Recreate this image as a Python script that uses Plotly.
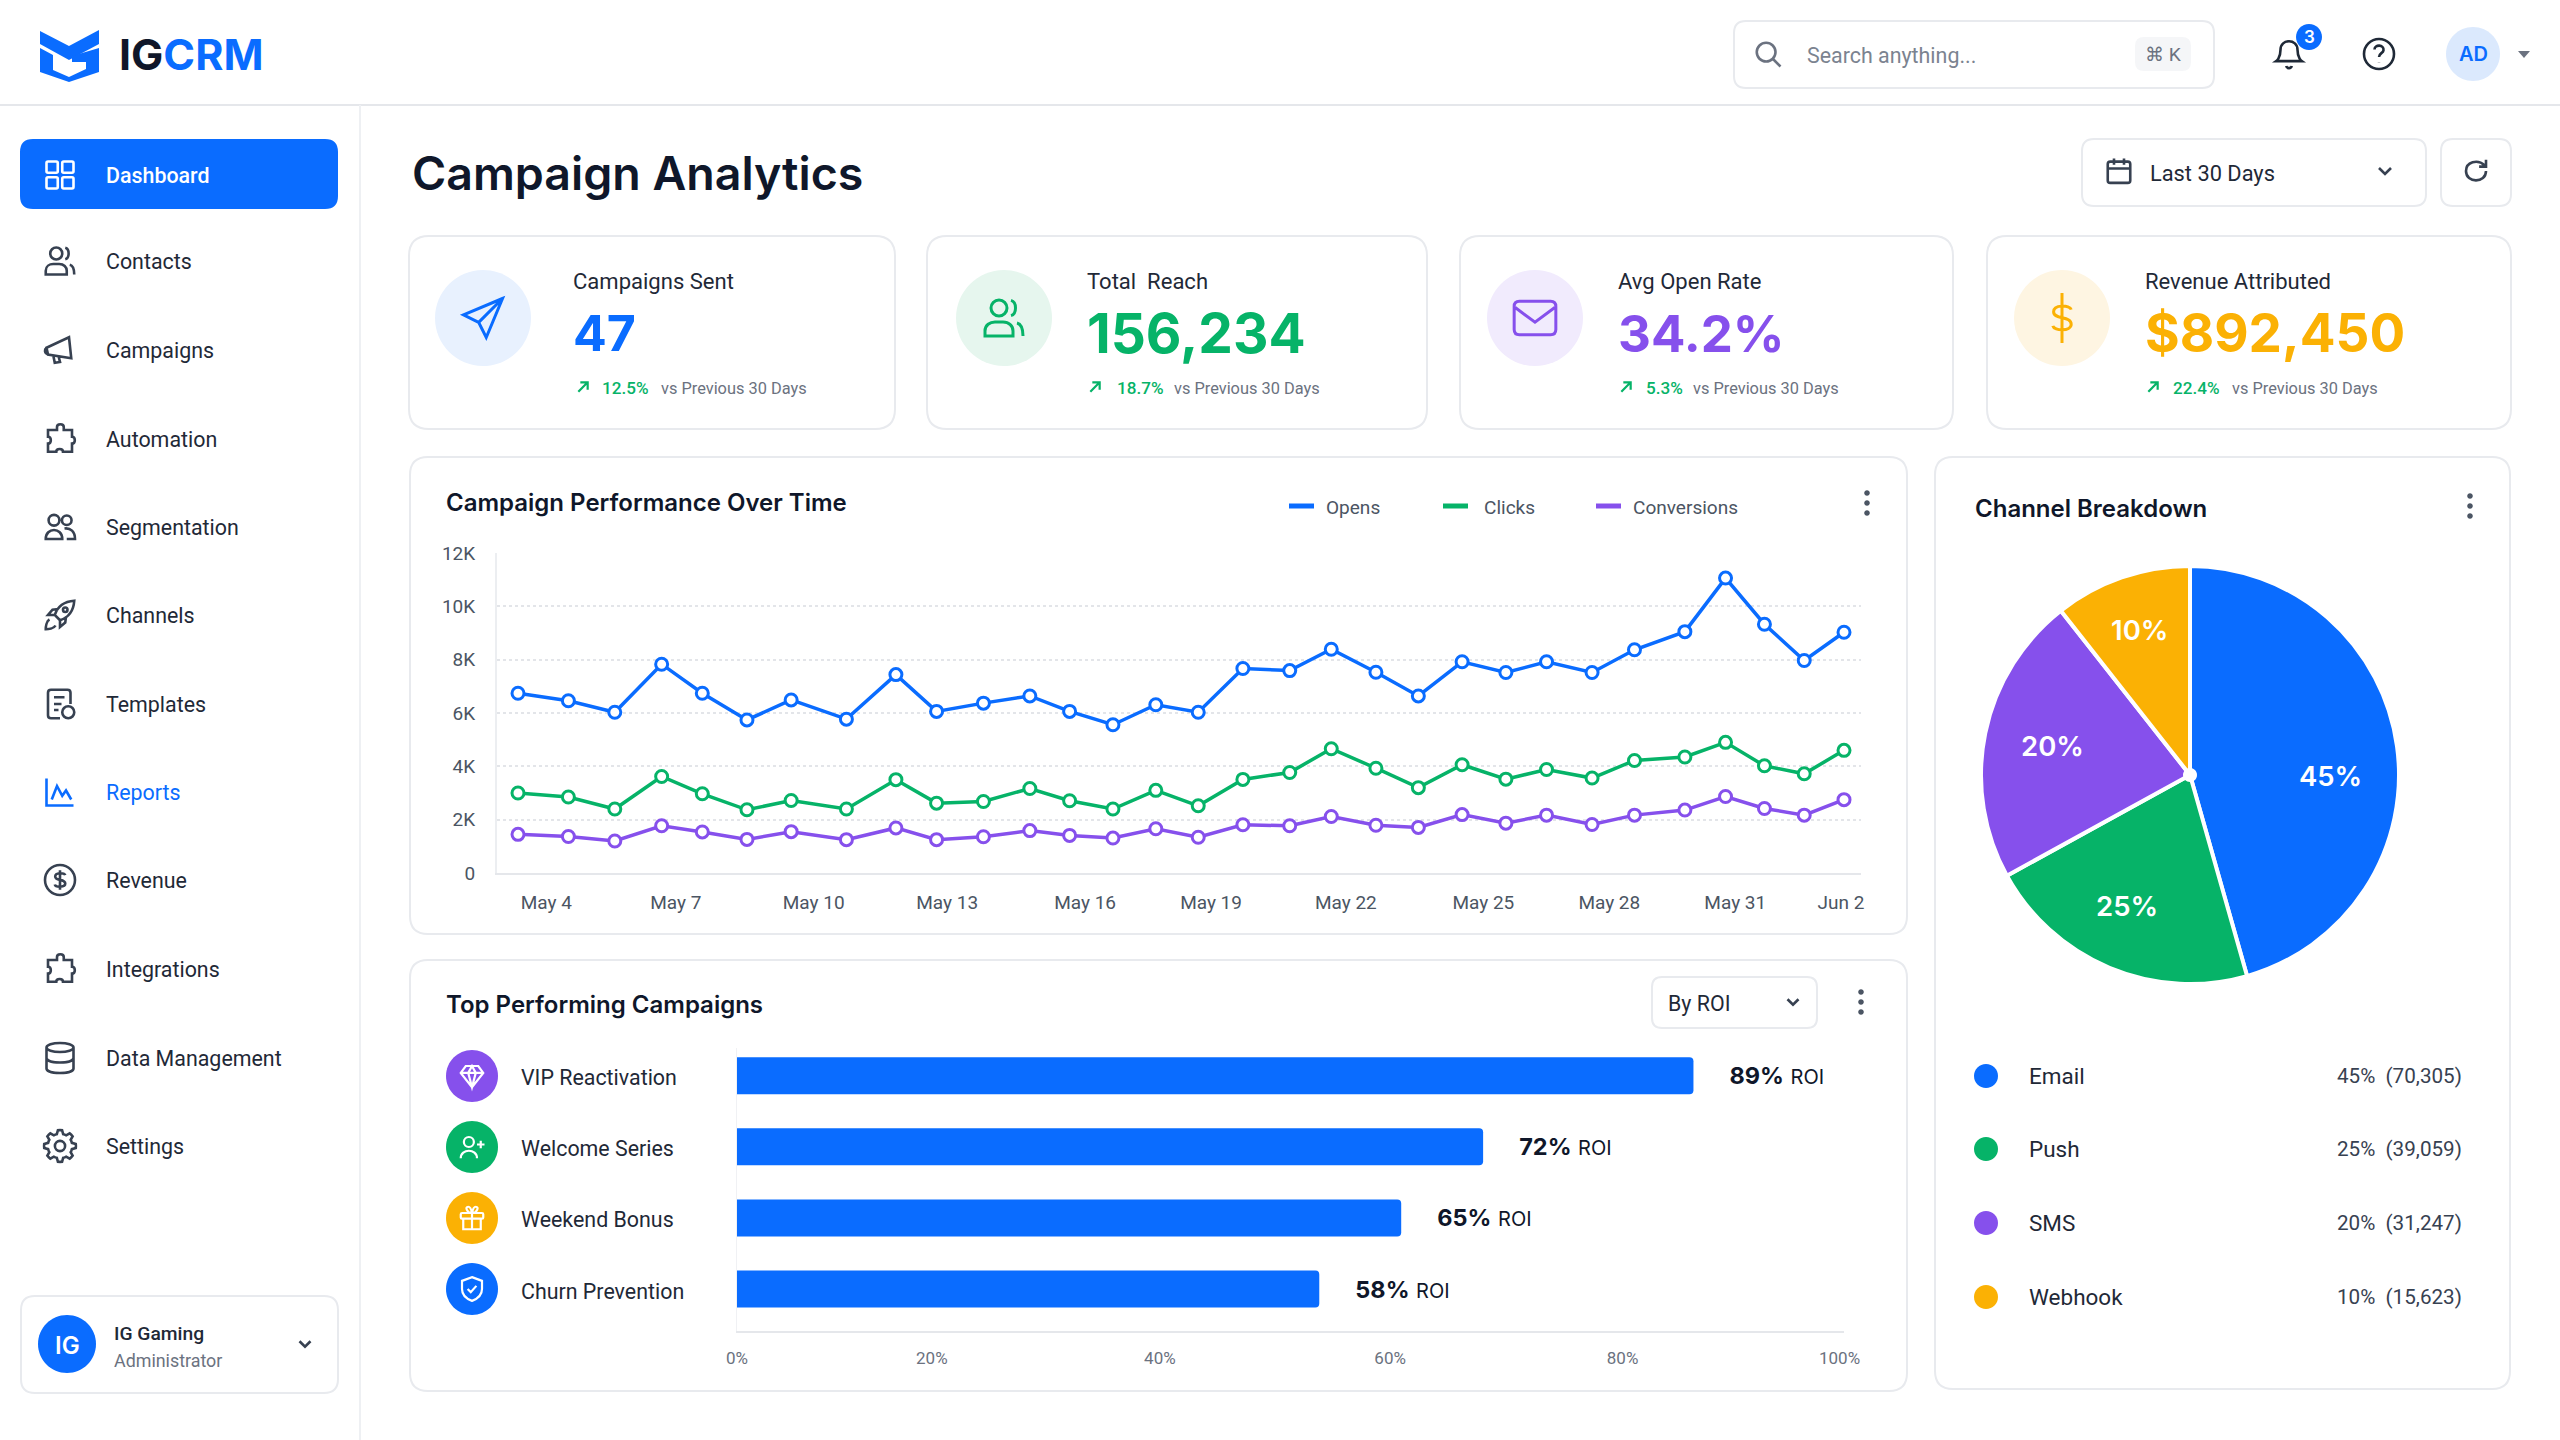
import re, math
import plotly.graph_objects as go

# ---------- data ----------
day_pos = [0, 1.14, 2.19, 3.25, 4.17, 5.18, 6.18, 7.43, 8.55, 9.47, 10.53, 11.58, 12.48, 13.46, 14.43, 15.39,
           16.4, 17.46, 18.4, 19.41, 20.37, 21.36, 22.35, 23.27, 24.3, 25.26, 26.4, 27.32, 28.2, 29.1, 30]
opens = [6740, 6460, 6030, 7830, 6740, 5740, 6490, 5770, 7440, 6060, 6370, 6640, 6060, 5560, 6310, 6030,
         7670, 7590, 8390, 7530, 6640, 7920, 7520, 7920, 7520, 8370, 9050, 11060, 9330, 7970, 9030]
clicks = [3000, 2850, 2400, 3620, 2970, 2370, 2720, 2400, 3500, 2620, 2680, 3170, 2710, 2400, 3100, 2520,
          3510, 3770, 4660, 3930, 3200, 4060, 3520, 3880, 3560, 4220, 4350, 4900, 4020, 3720, 4600]
conversions = [1450, 1370, 1200, 1770, 1540, 1260, 1550, 1250, 1690, 1250, 1360, 1590, 1410, 1310, 1660, 1340,
               1810, 1770, 2120, 1790, 1710, 2190, 1870, 2170, 1820, 2170, 2360, 2870, 2420, 2170, 2750]
date_tick_pos = [0.64, 3.57, 6.69, 9.71, 12.83, 15.68, 18.73, 21.84, 24.69, 27.54, 29.93]
date_labels = ["May 4", "May 7", "May 10", "May 13", "May 16", "May 19", "May 22", "May 25", "May 28", "May 31", "Jun 2"]
count_ticks = [0, 2000, 4000, 6000, 8000, 10000, 12000]
count_labels = ["0", "2K", "4K", "6K", "8K", "10K", "12K"]

campaigns = ["VIP Reactivation", "Welcome Series", "Weekend Bonus", "Churn Prevention"]
# NOTE: the reference's marks disagree with its printed numbers. The picture is reproduced as it is:
# bars and slices use the sizes as drawn, while the labels keep the numbers as printed.
roi_printed = [89, 72, 65, 58]
roi_as_drawn = [86.4, 67.4, 60.0, 52.6]
roi_tick_pos = [0, 17.6, 38.2, 59, 80, 99.6]
roi_tick_labels = ["0%", "20%", "40%", "60%", "80%", "100%"]

channels = ["Email", "Push", "SMS", "Webhook"]
channel_reach = [70305, 39059, 31247, 15623]
channel_share_printed = [45, 25, 20, 10]
channel_share_as_drawn = [45.6, 21.4, 22.4, 10.6]

kpi_names = ["Campaigns Sent", "Total  Reach", "Avg Open Rate", "Revenue Attributed"]
kpi_values = ["47", "156,234", "34.2%", "$892,450"]
kpi_deltas = ["12.5%", "18.7%", "5.3%", "22.4%"]
nav_items = ["Dashboard", "Contacts", "Campaigns", "Automation", "Segmentation", "Channels", "Templates",
             "Reports", "Revenue", "Integrations", "Data Management", "Settings"]

# ---------- styles ----------
FONT = "Inter"
BODY = "Roboto"
BLUE, GREEN, PURPLE, ORANGE = "#0a6cff", "#06b368", "#8650ec", "#fbb104"
DARK, TEXT, GRAY, BORDER = "#0f172a", "#1f2937", "#6b7280", "#e8eaee"
PX, PY = 2560.0, 1440.0

shapes, notes = [], []


def T(x, y, s, size=20, color=TEXT, weight=400, anchor="left", family=BODY):
    if family == BODY:
        size = size * 1.07
    if anchor == "left":
        x -= 1.5
    notes.append(dict(x=x, y=y, xref="x", yref="y", text=s, showarrow=False, xanchor=anchor, yanchor="middle",
                      borderpad=0, font=dict(family=family, size=size, color=color, weight=weight)))


def circle(x, y, rx, ry=None):
    ry = rx if ry is None else ry
    k = 0.5523
    return (f"M{x-rx} {y} C{x-rx} {y-k*ry} {x-k*rx} {y-ry} {x} {y-ry} C{x+k*rx} {y-ry} {x+rx} {y-k*ry} {x+rx} {y} "
            f"C{x+rx} {y+k*ry} {x+k*rx} {y+ry} {x} {y+ry} C{x-k*rx} {y+ry} {x-rx} {y+k*ry} {x-rx} {y} Z ")


def rrect(x, y, w, h, r):
    return (f"M{x+r} {y} L{x+w-r} {y} Q{x+w} {y} {x+w} {y+r} L{x+w} {y+h-r} Q{x+w} {y+h} {x+w-r} {y+h} "
            f"L{x+r} {y+h} Q{x} {y+h} {x} {y+h-r} L{x} {y+r} Q{x} {y} {x+r} {y} Z ")


def box(x0, y0, x1, y1, r=18, fill="#ffffff", line=BORDER, width=2, layer="below"):
    shapes.append(dict(type="path", xref="x", yref="y", path=rrect(x0, y0, x1 - x0, y1 - y0, r), fillcolor=fill,
                       line=dict(color=line, width=width), layer=layer))


def icon(d, cx, cy, size, color=TEXT, width=2.6, fill="rgba(0,0,0,0)"):
    s = size / 24.0
    out, idx = [], 0
    for tok in re.findall(r"[MLCQZ]|-?\d*\.?\d+(?:e-?\d+)?", d):
        if tok in "MLCQZ":
            out.append(tok)
            idx = 0
        else:
            v = float(tok)
            v = cx + (v - 12) * s if idx % 2 == 0 else cy + (v - 12) * s
            out.append(f"{v:.2f}")
            idx += 1
    shapes.append(dict(type="path", xref="x", yref="y", path=" ".join(out), fillcolor=fill,
                       line=dict(color=color, width=width)))


def dot(x, y, r, fill, layer="above"):
    shapes.append(dict(type="path", xref="x", yref="y", path=circle(x, y, r), fillcolor=fill,
                       line=dict(width=0), layer=layer))


def gear():
    pts = []
    for i in range(48):
        a = i / 48 * 2 * math.pi
        r = 10.6 if (i % 6) in (0, 1, 5) else 8.2
        pts.append(f"{12+r*math.cos(a):.2f} {12+r*math.sin(a):.2f}")
    return "M" + " L".join(pts) + " Z " + circle(12, 12, 3.4)


PUZZLE = ("M10 4 C10 1.5 14.5 1.5 14.5 4 L14.5 6 L20 6 L20 10.5 C22.5 10.5 22.5 15 20 15 L20 20.5 L14 20.5 "
          "C14 18 9.5 18 9.5 20.5 L4 20.5 L4 15 C6.5 15 6.5 10.5 4 10.5 L4 6 L10 6 Z")
DOLLAR = "M12 5.5 L12 18.5 M15.5 8.8 C15 7 8.8 6.8 8.8 9.6 C8.8 12.8 15.5 11 15.5 14.4 C15.5 17.2 9 17 8.5 15"
CHEV = "M6 9 L12 15 L18 9"
ICONS = {
    "Dashboard": rrect(3, 3, 7.5, 7.5, 1) + rrect(13.5, 3, 7.5, 7.5, 1) + rrect(3, 13.5, 7.5, 7.5, 1) + rrect(13.5, 13.5, 7.5, 7.5, 1),
    "Contacts": circle(9.5, 7, 4) + "M2.5 21 L2.5 18.5 C2.5 15.5 5 14 7.5 14 L11.5 14 C14.5 14 16.5 16 16.5 18.5 L16.5 21 Z "
                "M15.5 3.2 C18.5 4 18.5 10 15.5 10.8 M18.5 14.5 C20.5 15 21.5 17 21.5 21",
    "Campaigns": "M3 10.5 L18 3.5 L19.5 17.5 L4 15 Z M3 10.5 C1.5 11.5 1.5 14 4 15 M7.5 15.5 L8.5 20.5 L12 20 L11 16",
    "Automation": PUZZLE,
    "Segmentation": circle(8, 7.5, 3.6) + circle(16.5, 7.5, 3.2) + "M2.5 20 C2.5 12 13.5 12 13.5 20 Z M15 13 C19 12.5 22 15 22 20 L16.5 20",
    "Channels": "M5 15 C3 16 2.5 20 2.5 21.5 C4 21.5 8 21 9 19 M12 15.5 L8.5 12 C10 7.5 14 3 21.5 2.5 C21 10 16.5 14 12 15.5 Z "
                "M8.5 12 L4 12 L7 8.5 L11 8 M12 15.5 L12 20 L15.5 17 L16 13 " + circle(15.5, 8.5, 1.5),
    "Templates": "M19 12 L19 4.5 Q19 2.5 17 2.5 L6 2.5 Q4 2.5 4 4.5 L4 19.5 Q4 21.5 6 21.5 L12 21.5 M8 7.5 L15 7.5 M8 12 L13 12 "
                 "M8 16 L11 16 " + circle(17.5, 17.5, 4),
    "Reports": "M3 3 L3 21 L21 21 M6.5 17 L10 8 L13.5 14.5 L16 11 L19.5 17",
    "Revenue": circle(12, 12, 10) + DOLLAR,
    "Integrations": PUZZLE,
    "Data Management": circle(12, 5, 9, 3) + "M3 5 L3 19 C3 23 21 23 21 19 L21 5 M3 12 C3 16 21 16 21 12",
    "Settings": gear(),
}

# ---------- page chrome ----------
shapes.append(dict(type="line", xref="x", yref="y", x0=0, x1=PX, y0=105, y1=105, line=dict(color="#e5e7eb", width=2), layer="below"))
shapes.append(dict(type="line", xref="x", yref="y", x0=360, x1=360, y0=105, y1=PY, line=dict(color="#eef0f3", width=2), layer="below"))

# logo
shapes.append(dict(type="path", xref="x", yref="y", fillcolor=BLUE, line=dict(width=0),
                   path="M40 31 L69 46 L99 30 L99 44 L69 60 L40 44 Z"))
shapes.append(dict(type="path", xref="x", yref="y", fillcolor=BLUE, line=dict(width=0),
                   path="M40 48 L53 55 L53 70 L69 77 L86 69 L86 62 L72 62 L72 56 L99 48 L99 72 L69 82 L40 72 Z"))
notes.append(dict(x=118, y=54, xref="x", yref="y", showarrow=False, xanchor="left", yanchor="middle", borderpad=0,
                  text=f'IG<span style="color:{BLUE}">CRM</span>', font=dict(family=FONT, size=43, color=DARK, weight=700)))

# header widgets
box(1734, 21, 2214, 88, r=12)
icon(circle(10.5, 10.5, 7.5) + "M16 16 L22 22", 1768, 54, 30, GRAY)
T(1807, 55, "Search anything...", 20, "#7b8390")
box(2136, 38, 2190, 70, r=8, fill="#f5f6f8", line="#f5f6f8")
T(2163, 54, "⌘ K", 18, GRAY, anchor="center")
icon("M6 9 C6 1 18 1 18 9 C18 15 21 17 21 17 L3 17 C3 17 6 15 6 9 Z M10 20.5 C10.5 22.5 13.5 22.5 14 20.5", 2289, 54, 34, TEXT)
dot(2309, 37, 13, BLUE)
T(2309, 37, "3", 17, "#ffffff", 600, "center", FONT)
icon(circle(12, 12, 10) + "M9 9 C9 5.5 15.5 5.5 15 9.5 C14.8 11.5 12 11.5 12 14 M12 17.5 L12 17.6", 2379, 54, 36, TEXT)
dot(2473, 54, 27, "#dbe9fd")
T(2473, 54, "AD", 20, BLUE, 600, "center", FONT)
shapes.append(dict(type="path", xref="x", yref="y", path="M2518 51 L2530 51 L2524 58 Z", fillcolor=GRAY, line=dict(width=0)))

# sidebar
box(21, 140, 337, 208, r=12, fill=BLUE, line=BLUE)
nav_y = [175, 261, 350, 439, 527, 615, 704, 792, 880, 969, 1058, 1146]
for name, y in zip(nav_items, nav_y):
    col = "#ffffff" if name == "Dashboard" else (BLUE if name == "Reports" else "#374151")
    icon(ICONS[name], 60, y, 36, col)
    T(106, y, name, 20, "#ffffff" if name == "Dashboard" else (BLUE if name == "Reports" else TEXT), 500 if name == "Dashboard" else 400)
box(21, 1296, 338, 1393, r=14)
dot(67, 1344, 29, BLUE)
T(67, 1345, "IG", 24, "#ffffff", 600, "center", FONT)
T(114, 1333, "IG Gaming", 18, TEXT, 500)
T(114, 1360, "Administrator", 16.7, GRAY)
icon(CHEV, 305, 1344, 22, "#374151")

# title row
T(412, 173, "Campaign Analytics", 46.5, DARK, 600, family=FONT)
box(2082, 139, 2426, 206, r=12)
icon(rrect(3, 4.5, 18, 17, 2) + "M3 10 L21 10 M8 2 L8 7 M16 2 L16 7", 2119, 171, 30, "#374151")
T(2150, 173, "Last 30 Days", 20.4, TEXT)
icon(CHEV, 2385, 171, 24, "#374151")
box(2441, 139, 2511, 206, r=12)
icon("M20 12 C20 22 4 22 4 12 C4 5 13 2 19 7.5 M20 3 L20 8.5 L14.5 8.5", 2476, 171, 30, "#374151")

# KPI cards
kpi_boxes = [(409, 895), (927, 1427), (1460, 1953), (1987, 2511)]
kpi_centers = [483, 1004, 1535, 2062]
kpi_text_x = [573, 1087, 1618, 2145]
kpi_arrow_x = [583, 1095, 1626, 2153]
kpi_pct_x = [602, 1117, 1646, 2173]
kpi_vs_x = [661, 1174, 1693, 2232]
kpi_sizes = [50, 55, 51, 53]
kpi_colors = [BLUE, GREEN, PURPLE, ORANGE]
kpi_tints = ["#e8f1fe", "#e6f6ee", "#f1ebfd", "#fef5e2"]
kpi_icon_sizes = [52, 48, 50, 63]
kpi_icons = ["M21 3 L3 10.5 L10 14 L13.5 21 Z M21 3 L10 14",
             circle(9.5, 7, 4) + "M2.5 21 L2.5 18.5 C2.5 15.5 5 14 7.5 14 L11.5 14 C14.5 14 16.5 16 16.5 18.5 L16.5 21 Z "
             "M15.5 3.2 C18.5 4 18.5 10 15.5 10.8 M18.5 14.5 C20.5 15 21.5 17 21.5 21",
             rrect(2, 4, 20, 16, 2.5) + "M2.5 7 L12 14 L21.5 7",
             DOLLAR.replace("M12 5.5 L12 18.5", "M12 2.5 L12 21.5")]
for i in range(4):
    box(kpi_boxes[i][0], 236, kpi_boxes[i][1], 429, r=20)
    dot(kpi_centers[i], 318, 48, kpi_tints[i])
    icon(kpi_icons[i], kpi_centers[i], 318, kpi_icon_sizes[i], kpi_colors[i], 3)
    T(kpi_text_x[i], 281, kpi_names[i], 20.6, TEXT)
    T(kpi_text_x[i], 333, kpi_values[i], kpi_sizes[i], kpi_colors[i], 700, family=FONT)
    icon("M5 19 L19 5 M8 5 L19 5 L19 16", kpi_arrow_x[i], 387, 16, GREEN, 2.2)
    T(kpi_pct_x[i], 388, kpi_deltas[i], 16, GREEN, 500)
    T(kpi_vs_x[i], 388, "vs Previous 30 Days", 15.3, GRAY)

# panels
box(410, 457, 1907, 934, r=18)
box(410, 960, 1907, 1391, r=18)
box(1935, 457, 2510, 1389, r=18)
T(446, 502, "Campaign Performance Over Time", 24, DARK, 600, family=FONT)
T(446, 1004, "Top Performing Campaigns", 24, DARK, 600, family=FONT)
T(1975, 508, "Channel Breakdown", 24, DARK, 600, family=FONT)
for kx, ky in [(1867, 503), (1861, 1002), (2470, 506)]:
    for d in (-10, 0, 10):
        dot(kx, ky + d, 2.8, "#4b5563")

# line chart legend
for name, col, x0, xt in zip(["Opens", "Clicks", "Conversions"], [BLUE, GREEN, PURPLE], [1289, 1443, 1596], [1326, 1484, 1633]):
    shapes.append(dict(type="line", xref="x", yref="y", x0=x0, x1=x0 + 25, y0=506, y1=506, line=dict(color=col, width=5)))
    T(xt, 507, name, 17.8, "#4b5563")

# dropdown
box(1652, 977, 1817, 1028, r=10)
T(1668, 1003, "By ROI", 20, TEXT)
icon(CHEV, 1793, 1002, 22, "#374151")

# campaign badges (positions on the bar axis' categories)
badge_cols = [PURPLE, GREEN, ORANGE, BLUE]
badge_icons = ["M7 4 L17 4 L21 9.5 L12 21 L3 9.5 Z M3 9.5 L21 9.5 M9 9.5 L12 21 L15 9.5 M9 9.5 L12 4 L15 9.5",
               circle(9.5, 8, 4) + "M3 21 C3 13 16 13 16 21 M19 7 L19 13 M16 10 L22 10",
               rrect(3, 8, 18, 4.5, 1) + "M5 12.5 L5 21 L19 21 L19 12.5 M12 8 L12 21 M12 8 C8 8 6 3 9 3 C11 3 12 8 12 8 C12 8 13 3 15 3 C18 3 16 8 12 8",
               "M12 2.5 L20 5.5 L20 12 C20 17 16 20 12 21.5 C8 20 4 17 4 12 L4 5.5 Z M8.5 12 L11 14.5 L15.5 9.5"]
badge_y = [1076, 1147, 1218, 1289]
for i, name in enumerate(campaigns):
    dot(472, badge_y[i], 26, badge_cols[i])
    icon(badge_icons[i], 472, badge_y[i], 30, "#ffffff", 2.2)
    notes.append(dict(x=520, y=name, xref="x", yref="y3", text=name, showarrow=False, xanchor="left", yanchor="middle",
                      yshift=-2, borderpad=0, font=dict(family=BODY, size=21.4, color=TEXT)))

# pie legend and printed slice labels
pie_cols = [BLUE, GREEN, PURPLE, ORANGE]
legend_y = [1076, 1149, 1223, 1297]
for i, name in enumerate(channels):
    dot(1986, legend_y[i], 12, pie_cols[i])
    T(2029, legend_y[i], name, 21, TEXT)
    T(2463, legend_y[i], f"{channel_share_printed[i]}%&nbsp;&nbsp;({channel_reach[i]:,})", 19.3, "#374151", anchor="right")
slice_label_x = [2330, 2127, 2052, 2139]
slice_label_y = [776, 906, 746, 630]
for i in range(4):
    T(slice_label_x[i], slice_label_y[i], f"{channel_share_printed[i]}%", 27.5, "#ffffff", 600, "center", FONT)

# ---------- figure ----------
fig = go.Figure()
# full-page helper axes used for the chrome only
fig.add_trace(go.Scatter(x=[0], y=[0], mode="none", hoverinfo="skip", showlegend=False))

line_series = [("Opens", opens, BLUE), ("Clicks", clicks, GREEN), ("Conversions", conversions, PURPLE)]
for name, vals, col in line_series:
    fig.add_trace(go.Scatter(x=day_pos, y=vals, name=name, mode="lines+markers", xaxis="x2", yaxis="y2",
                             line=dict(color=col, width=3.5), showlegend=False, cliponaxis=False,
                             marker=dict(size=12, color="#ffffff", line=dict(color=col, width=3))))

fig.add_trace(go.Bar(x=roi_as_drawn, y=campaigns, orientation="h", xaxis="x3", yaxis="y3", width=0.52, showlegend=False,
                     marker=dict(color=BLUE, line=dict(width=0)), textposition="outside", cliponaxis=False,
                     constraintext="none",
                     text=[f'&nbsp;&nbsp;&nbsp;&nbsp;&nbsp;<b>{v}%</b> <span style="font-size:20px">ROI</span>' for v in roi_printed],
                     textfont=dict(family=FONT, size=23.5, color=DARK)))

cx, cy, r = 2190, 775, 209
fig.add_trace(go.Pie(labels=channels, values=channel_share_as_drawn, sort=False, direction="clockwise", rotation=0,
                     domain=dict(x=[(cx - r) / PX, (cx + r) / PX], y=[(PY - cy - r) / PY, (PY - cy + r) / PY]),
                     marker=dict(colors=pie_cols, line=dict(color="#ffffff", width=4)), showlegend=False,
                     textinfo="none"))
dot(cx, cy, 7, "#ffffff")

hidden = dict(visible=False, showgrid=False, zeroline=False, fixedrange=True)
tickfont = dict(family=BODY, size=19, color="#4b5563")
x_per_day = (1844 - 518) / 30.0
fig.update_layout(
    width=2560, height=1440, autosize=False, margin=dict(l=0, r=0, t=0, b=0, autoexpand=False), paper_bgcolor="#ffffff",
    plot_bgcolor="rgba(0,0,0,0)", barcornerradius=4, hovermode=False,
    font=dict(family=FONT, color=TEXT),
    xaxis=dict(domain=[0, 1], range=[0, PX], anchor="y", **hidden),
    yaxis=dict(domain=[0, 1], range=[PY, 0], anchor="x", **hidden),
    xaxis2=dict(domain=[497 / PX, 1861 / PX], anchor="y2", range=[(497 - 518) / x_per_day, (1861 - 518) / x_per_day],
                tickmode="array", tickvals=date_tick_pos, ticktext=date_labels, showgrid=False, zeroline=False,
                showline=True, linecolor="#e5e7eb", linewidth=2, ticks="", ticklabelstandoff=11, tickfont=tickfont),
    yaxis2=dict(domain=[(PY - 873) / PY, (PY - 553) / PY], anchor="x2", range=[0, 12000], tickmode="array",
                tickvals=count_ticks, ticktext=count_labels, showgrid=True, gridcolor="#e3e5e9", griddash="dot",
                gridwidth=2, zeroline=False, showline=True, linecolor="#eceef1", linewidth=2, ticks="",
                ticklabelstandoff=16, tickfont=tickfont),
    xaxis3=dict(domain=[737 / PX, 1844 / PX], anchor="y3", range=[0, 100], tickmode="array", tickvals=roi_tick_pos,
                ticktext=roi_tick_labels, showgrid=False, zeroline=False, showline=True,
                linecolor="#e5e7eb", linewidth=2, ticks="", ticklabelstandoff=11,
                tickfont=dict(family=BODY, size=17, color=GRAY)),
    yaxis3=dict(domain=[(PY - 1331) / PY, (PY - 1048) / PY], anchor="x3", type="category", categoryorder="array",
                categoryarray=campaigns, range=[3.59, -0.39], showticklabels=False, showgrid=False, zeroline=False,
                showline=True, linecolor="#f0f1f4", linewidth=1, ticks=""),
    shapes=shapes, annotations=notes,
)

fig.write_html("out.html", config=dict(displayModeBar=False, responsive=False),
               post_script="document.body.style.margin='0';document.body.style.overflow='hidden';")
